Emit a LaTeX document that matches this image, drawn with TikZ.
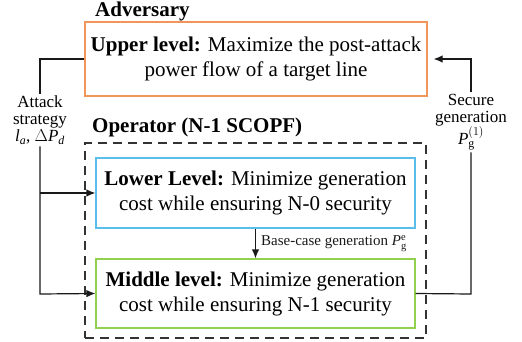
\documentclass[tikz,border=0pt]{standalone}
\usepackage{amsmath}
\usepackage{fontspec}
\setmainfont{Liberation Serif}
\usetikzlibrary{arrows.meta}
\definecolor{orangeb}{RGB}{240,150,90}
\definecolor{blueb}{RGB}{90,190,235}
\definecolor{greenb}{RGB}{146,208,80}
\tikzset{
  levelbox/.style={draw, line width=1.2pt, minimum width=#1, align=center, inner sep=0pt,
    font=\fontsize{21}{25}\selectfont},
  lbl/.style={align=center, inner sep=2pt, font=\fontsize{17}{17}\selectfont},
  head/.style={inner sep=0pt, font=\fontsize{21}{25}\selectfont\bfseries},
  conn/.style={line width=1.2pt, black!90},
  arr/.style={conn, -{Latex[length=9pt,width=7.5pt]}},
}
\begin{document}
\begin{tikzpicture}[x=1pt,y=-1pt]
\useasboundingbox (0,0) rectangle (522,342);
\node[levelbox=342pt, draw=orangeb, minimum height=74pt] (upper) at (256,59)
  {\textbf{Upper level:} Maximize the post-attack\\power flow of a target line};
\node[draw, dashed, line width=1.2pt, black!80, dash pattern=on 9pt off 6pt,
  minimum width=341pt, minimum height=195pt, inner sep=0pt] (op) at (255.5,240.5) {};
\node[levelbox=319pt, draw=blueb, minimum height=70pt] (lower) at (255.5,193)
  {\textbf{Lower Level:} Minimize generation\\cost while ensuring N-0 security};
\node[levelbox=319pt, draw=greenb, minimum height=69pt] (middle) at (255.5,293.5)
  {\textbf{Middle level:} Minimize generation\\cost while ensuring N-1 security};
\node[head, anchor=base west] (adv) at (95,17) {Adversary};
\node[head, anchor=base west] (opl) at (92,133) {Operator (N-1 SCOPF)};
\node[lbl] (atk) at (40,120) {Attack\\strategy\\\textit{l}$_{\textit{a}}$, $\Delta$\textit{P}$_{\textit{d}}$};
\node[lbl] (sec) at (471,122) {Secure\\generation\\\textit{P}$_{\mathrm{g}}^{(1)}$};
\coordinate (lt) at (40,59);
\coordinate (lb) at (40,294);
\coordinate (lm) at (40,193);
\coordinate (rb) at (471,294);
\coordinate (rt) at (471,59);
\draw[conn] (upper.west) -- (lt) -- (atk.north);
\draw[arr] (atk.south) -- (lb) -- (middle.west);
\draw[arr] (lm) -- (lower.west);
\draw[conn] (middle.east) -- (rb) -- (sec.south);
\draw[arr, shorten >=6pt] (sec.north) -- (rt) -- (upper.east);
\draw[arr] (lower.south) -- (middle.north)
  node[midway, anchor=west, xshift=5pt, inner sep=0pt, font=\fontsize{15}{15}\selectfont] (base) {Base-case generation \textit{P}$_{\mathrm{g}}^{\mathrm{e}}$};
\end{tikzpicture}
\end{document}
